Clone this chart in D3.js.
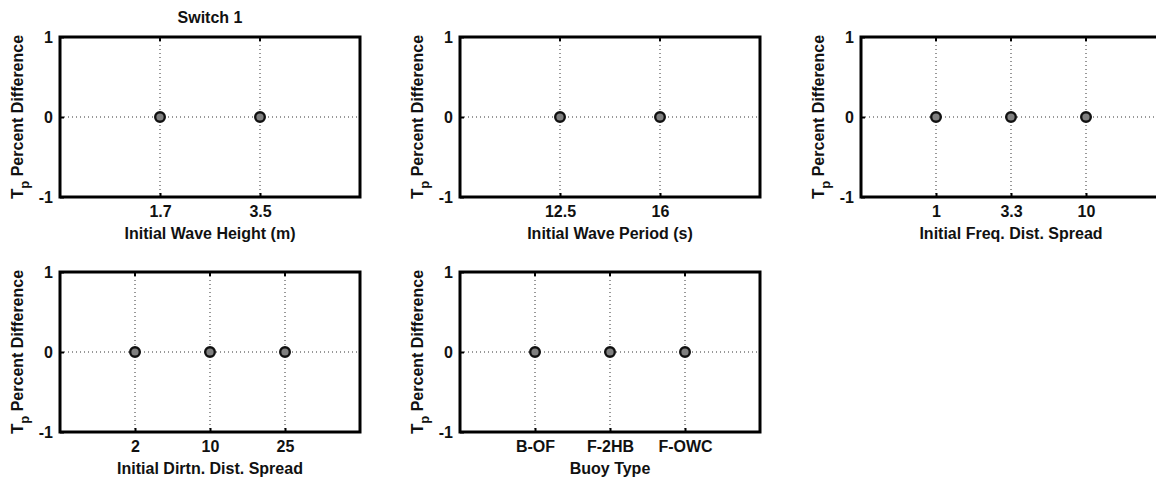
<!DOCTYPE html>
<html>
<head>
<meta charset="utf-8">
<script src="https://cdn.jsdelivr.net/npm/d3@7"></script>
<style>
  body { margin: 0; background: #fff; }
  svg text { font-family: "Liberation Sans", Arial, sans-serif; font-weight: bold; fill: #111; }
</style>
</head>
<body>
<svg width="1156" height="480"></svg>
<script>
// Panel categories (tick labels) and their Tp percent differences.
const waveHeights = ["1.7", "3.5"];
const waveHeightVals = [0, 0];
const wavePeriods = ["12.5", "16"];
const wavePeriodVals = [0, 0];
const freqSpreads = ["1", "3.3", "10"];
const freqSpreadVals = [0, 0, 0];
const dirSpreads = ["2", "10", "25"];
const dirSpreadVals = [0, 0, 0];
const buoyTypes = ["B-OF", "F-2HB", "F-OWC"];
const buoyTypeVals = [0, 0, 0];

const yTicks = [-1, 0, 1];

const panels = [
  { labels: waveHeights, vals: waveHeightVals, xlabel: "Initial Wave Height (m)", col: 0, row: 0, title: "Switch 1" },
  { labels: wavePeriods, vals: wavePeriodVals, xlabel: "Initial Wave Period (s)", col: 1, row: 0 },
  { labels: freqSpreads, vals: freqSpreadVals, xlabel: "Initial Freq. Dist. Spread", col: 2, row: 0 },
  { labels: dirSpreads, vals: dirSpreadVals, xlabel: "Initial Dirtn. Dist. Spread", col: 0, row: 1 },
  { labels: buoyTypes, vals: buoyTypeVals, xlabel: "Buoy Type", col: 1, row: 1 }
];

const svg = d3.select("svg");
const panelW = 300, panelH = 160;
const lefts = [60, 460, 861];
const tops = [37, 272];

panels.forEach(p => {
  const g = svg.append("g")
    .attr("transform", `translate(${lefts[p.col]},${tops[p.row]})`);

  const n = p.labels.length;
  const x = d3.scaleLinear().domain([0, n + 1]).range([0, panelW]);
  const y = d3.scaleLinear().domain([-1, 1]).range([panelH, 0]);
  const idx = d3.range(1, n + 1);

  // Dotted grid lines.
  g.selectAll("line.vgrid").data(idx).enter().append("line")
    .attr("x1", d => x(d)).attr("x2", d => x(d))
    .attr("y1", 0).attr("y2", panelH)
    .attr("stroke", "#333").attr("stroke-width", 1)
    .attr("stroke-dasharray", "1,3");
  g.append("line")
    .attr("x1", 0).attr("x2", panelW)
    .attr("y1", y(0)).attr("y2", y(0))
    .attr("stroke", "#333").attr("stroke-width", 1)
    .attr("stroke-dasharray", "1,3");

  // Bottom axis with labels, ticks pointing inward.
  const xAxis = g.append("g")
    .attr("transform", `translate(0,${panelH})`)
    .call(d3.axisBottom(x).tickValues(idx).tickFormat(i => p.labels[i - 1]).tickSize(-4).tickPadding(9));
  xAxis.select(".domain").remove();
  xAxis.selectAll("line").attr("stroke", "#000").attr("stroke-width", 2);
  xAxis.selectAll("text").attr("font-size", 16);

  // Top ticks.
  g.selectAll("line.ttick").data(idx).enter().append("line")
    .attr("x1", d => x(d)).attr("x2", d => x(d))
    .attr("y1", 0).attr("y2", 4)
    .attr("stroke", "#000").attr("stroke-width", 2);

  const yAxis = g.append("g")
    .call(d3.axisLeft(y).tickValues(yTicks).tickFormat(d3.format("d")).tickSize(-4).tickPadding(7));
  yAxis.select(".domain").remove();
  yAxis.selectAll("line").attr("stroke", "#000").attr("stroke-width", 2);
  yAxis.selectAll("text").attr("font-size", 16).text(d => d < 0 ? "-" + Math.abs(d) : d);

  // Axes box.
  g.append("rect")
    .attr("width", panelW).attr("height", panelH)
    .attr("fill", "none").attr("stroke", "#000").attr("stroke-width", 3);

  // Data markers.
  g.selectAll("circle").data(p.vals).enter().append("circle")
    .attr("cx", (d, i) => x(i + 1))
    .attr("cy", d => y(d))
    .attr("r", 4.8)
    .attr("fill", "#808080")
    .attr("stroke", "#111")
    .attr("stroke-width", 2.4);

  // X label.
  g.append("text")
    .attr("x", panelW / 2).attr("y", panelH + 42)
    .attr("text-anchor", "middle").attr("font-size", 16)
    .text(p.xlabel);

  // Y label: T with subscript p.
  const yl = g.append("text")
    .attr("transform", `translate(-37,${panelH / 2}) rotate(-90)`)
    .attr("text-anchor", "middle").attr("font-size", 16);
  yl.append("tspan").attr("font-size", 17).text("T");
  yl.append("tspan").attr("dy", 6).attr("font-size", 13).text("p");
  yl.append("tspan").attr("dy", -6).text(" Percent Difference");

  if (p.title) {
    g.append("text")
      .attr("x", panelW / 2).attr("y", -14)
      .attr("text-anchor", "middle").attr("font-size", 16)
      .text(p.title);
  }
});
</script>
</body>
</html>
